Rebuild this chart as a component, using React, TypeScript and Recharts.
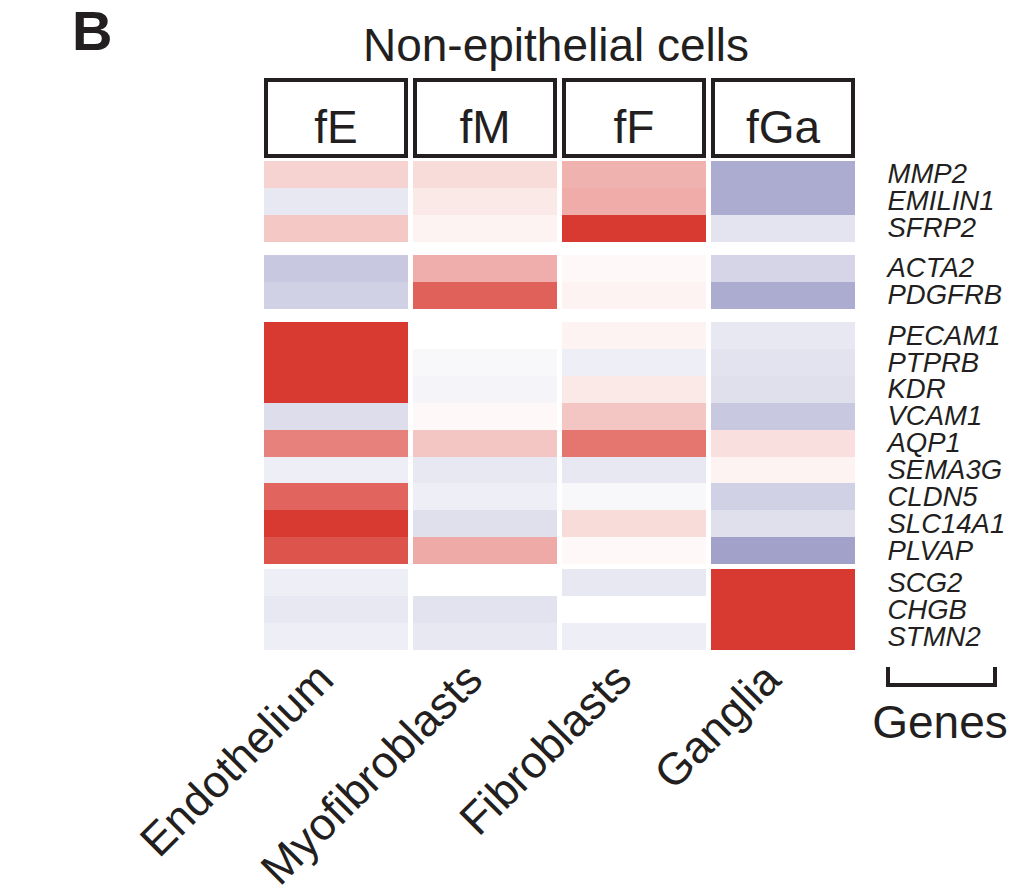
import { ScatterChart, Scatter, XAxis, YAxis } from "recharts";

// column clusters and their cell types
const clusters = ["fE", "fM", "fF", "fGa"];
const cellTypes = ["Endothelium", "Myofibroblasts", "Fibroblasts", "Ganglia"];

// genes, in marker groups (top to bottom)
const geneGroups = [
  ["MMP2", "EMILIN1", "SFRP2"],
  ["ACTA2", "PDGFRB"],
  ["PECAM1", "PTPRB", "KDR", "VCAM1", "AQP1", "SEMA3G", "CLDN5", "SLC14A1", "PLVAP"],
  ["SCG2", "CHGB", "STMN2"],
];

// scaled expression per cluster, one value per gene (same order as above)
const fE = [0.23, -0.22, 0.28, -0.52, -0.44, 1, 1, 1, -0.32, 0.64, -0.16, 0.78, 1, 0.87, -0.16, -0.22, -0.16];
const fM = [0.18, 0.11, 0.06, 0.41, 0.8, 0, -0.07, -0.1, 0.035, 0.29, -0.22, -0.16, -0.3, 0.43, 0, -0.27, -0.22];
const fF = [0.39, 0.42, 1, 0.035, 0.06, 0.06, -0.16, 0.11, 0.29, 0.7, -0.22, -0.07, 0.18, 0.035, -0.22, 0, -0.16];
const fGa = [-0.79, -0.79, -0.26, -0.4, -0.79, -0.22, -0.27, -0.3, -0.52, 0.16, 0.06, -0.44, -0.3, -0.9, 1, 1, 1];

const values = [fE, fM, fF, fGa];

const FONT = "'Liberation Sans', Arial, Helvetica, sans-serif";
const INK = "#231f20";

// row layout in data units: 1 per gene, small gaps between groups
const GROUP_GAPS = [0.5, 0.5, 0.2];
const genes = geneGroups.flat();
const rowStart: number[] = [];
let acc = 0;
geneGroups.forEach((g, gi) => {
  g.forEach(() => {
    rowStart.push(acc);
    acc += 1;
  });
  if (gi < GROUP_GAPS.length) acc += GROUP_GAPS[gi];
});
const Y_SPAN = acc;
const rowCenters = rowStart.map((s) => s + 0.5);

const cells = values.flatMap((col, c) =>
  col.map((v, i) => ({ x: c + 0.5, y: rowCenters[i], v }))
);
const headerPoints = clusters.map((_, c) => ({ x: c + 0.5, y: 0 }));

// diverging colour scale: blue - white - red
const RED = [216, 58, 49];
const BLUE = [150, 150, 196];
function heat(v: number) {
  const t = Math.min(1, Math.abs(v));
  const end = v >= 0 ? RED : BLUE;
  const ch = end.map((e) => Math.round(255 + (e - 255) * t));
  return `rgb(${ch.join(",")})`;
}

const W = 1036;
const H = 896;
const MARGIN = { top: 78, right: 0, bottom: 46, left: 261.5 };
const TOP_AXIS_H = 83;
const BOTTOM_AXIS_H = 200;
const RIGHT_AXIS_W = 178.5;
const PLOT_W = W - MARGIN.left - MARGIN.right - RIGHT_AXIS_W;
const PLOT_H = H - MARGIN.top - MARGIN.bottom - TOP_AXIS_H - BOTTOM_AXIS_H;
const COL_GAP = 5;

function HeatCell(props: any) {
  const { cx, cy } = props;
  const v = props.payload?.v ?? props.v ?? 0;
  const w = PLOT_W / clusters.length - COL_GAP;
  const h = PLOT_H / Y_SPAN;
  const y0 = Math.round(cy - h / 2);
  const y1 = Math.round(cy + h / 2);
  return <rect x={cx - w / 2} y={y0} width={w} height={y1 - y0} fill={heat(v)} shapeRendering="crispEdges" />;
}

function ClusterTick(props: any) {
  const { x, y, payload } = props;
  const idx = Math.floor(payload.value);
  const w = PLOT_W / clusters.length - COL_GAP;
  return (
    <g>
      <rect x={x - w / 2 + 2} y={y - 81} width={w - 4} height={76} fill="none" stroke={INK} strokeWidth={4} />
      <text x={x} y={y - 18} textAnchor="middle" fontSize={46} fontFamily={FONT} fill={INK}>
        {clusters[idx]}
      </text>
    </g>
  );
}

function CellTypeTick(props: any) {
  const { x, y, payload } = props;
  const idx = Math.floor(payload.value);
  return (
    <text
      transform={`translate(${x},${y + 32}) rotate(-45)`}
      textAnchor="end"
      fontSize={45}
      fontFamily={FONT}
      fill={INK}
    >
      {cellTypes[idx]}
    </text>
  );
}

function GeneTick(props: any) {
  const { x, y, payload } = props;
  const i = rowCenters.indexOf(payload.value);
  return (
    <text x={x + 30} y={y + 9} fontSize={27.5} fontStyle="italic" fontFamily={FONT} fill={INK}>
      {genes[i]}
    </text>
  );
}

const colTicks = clusters.map((_, i) => i + 0.5);

export default function App() {
  return (
    <div style={{ position: "absolute", left: 0, top: 0, width: W, height: H, background: "#fff" }}>
      <ScatterChart width={W} height={H} margin={MARGIN}>
        <XAxis
          xAxisId="top"
          orientation="top"
          type="number"
          dataKey="x"
          domain={[0, clusters.length]}
          ticks={colTicks}
          height={TOP_AXIS_H}
          axisLine={false}
          tickLine={false}
          tickSize={0}
          tickMargin={0}
          tick={ClusterTick}
          interval={0}
        />
        <XAxis
          type="number"
          dataKey="x"
          domain={[0, clusters.length]}
          ticks={colTicks}
          height={BOTTOM_AXIS_H}
          axisLine={false}
          tickLine={false}
          tickSize={0}
          tickMargin={0}
          tick={CellTypeTick}
          interval={0}
        />
        <YAxis
          type="number"
          dataKey="y"
          orientation="right"
          domain={[0, Y_SPAN]}
          reversed
          ticks={rowCenters}
          width={RIGHT_AXIS_W}
          axisLine={false}
          tickLine={false}
          tickSize={0}
          tickMargin={0}
          tick={GeneTick}
          interval={0}
        />
        <Scatter data={cells} shape={HeatCell} isAnimationActive={false} />
        <Scatter xAxisId="top" data={headerPoints} shape={() => <g />} isAnimationActive={false} />
        <text x={72} y={50} fontSize={56} fontWeight="bold" fontFamily={FONT} fill={INK}>
          B
        </text>
        <text x={556} y={61} textAnchor="middle" fontSize={46} fontFamily={FONT} fill={INK}>
          Non-epithelial cells
        </text>
        <path d="M888,667 V685 H995 V667" fill="none" stroke={INK} strokeWidth={4} />
        <text x={940} y={738} textAnchor="middle" fontSize={46} fontFamily={FONT} fill={INK}>
          Genes
        </text>
      </ScatterChart>
    </div>
  );
}
